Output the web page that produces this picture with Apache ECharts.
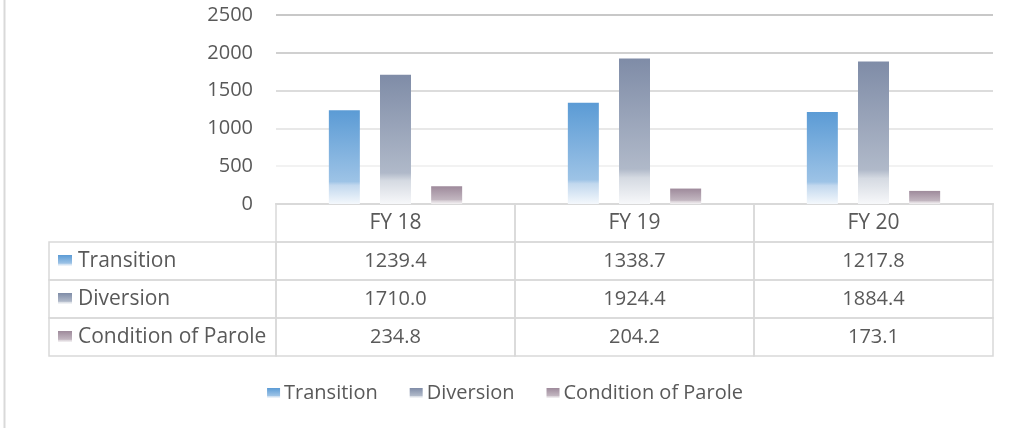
<!DOCTYPE html>
<html>
<head>
<meta charset="utf-8">
<script src="https://cdn.jsdelivr.net/npm/echarts@6/dist/echarts.min.js"></script>
<style>html,body{margin:0;padding:0;background:#fff;}#c{width:1010px;height:428px;}</style>
</head>
<body>
<div id="c"></div>
<script>
var categories = ['FY 18', 'FY 19', 'FY 20'];
var seriesNames = ['Transition', 'Diversion', 'Condition of Parole'];
var transition = [1239.4, 1338.7, 1217.8];
var diversion = [1710.0, 1924.4, 1884.4];
var parole = [234.8, 204.2, 173.1];
var yTicks = [0, 500, 1000, 1500, 2000, 2500];

var values = [transition, diversion, parole];
var FONT = '"Open Sans", "Liberation Sans", sans-serif';
var TXT = '#595959';
var LINE = '#d9d9d9';

function grad(stops) {
  return { type: 'linear', x: 0, y: 0, x2: 0, y2: 1,
    colorStops: stops.map(function (s) { return { offset: s[0], color: s[1] }; }) };
}
var fills = [
  grad([[0, '#5B9BD5'], [0.76, '#9DC3E6'], [0.8, '#C2D8EE'], [1, '#F4F8FC']]),
  grad([[0, '#7F8CA7'], [0.76, '#B0B9C9'], [0.82, '#D5DAE2'], [1, '#F7F8FA']]),
  grad([[0, '#9E8A9B'], [0.76, '#C2B6C0'], [0.82, '#D8D0D6'], [1, '#F4F2F4']])
];

var barSeries = seriesNames.map(function (n, i) {
  return {
    name: n, type: 'bar', xAxisIndex: 0, yAxisIndex: 0,
    barWidth: 31, barGap: '65%',
    itemStyle: { color: fills[i] },
    data: values[i]
  };
});

// table cells
var headerData = categories.map(function (c, i) { return [i, 0]; });
var cellData = [];
values.forEach(function (arr, r) {
  arr.forEach(function (v, c) { cellData.push([c, r + 1, v]); });
});
var labelData = seriesNames.map(function (n, i) { return [0, i]; });

function cellRect(api) {
  var p = api.coord([api.value(0), api.value(1)]);
  var s = api.size([1, 1]);
  return { x: p[0] - s[0] / 2, y: p[1] - s[1] / 2, w: s[0], h: s[1], cx: p[0], cy: p[1] };
}

var option = {
  animation: false,
  backgroundColor: '#fff',
  textStyle: { fontFamily: FONT },
  grid: [
    { left: 276, right: 17, top: 15, bottom: 224 },
    { left: 276, right: 17, top: 204, height: 152 },
    { left: 49, width: 227, top: 242, height: 114 }
  ],
  xAxis: [
    { type: 'category', gridIndex: 0, data: categories,
      axisLine: { lineStyle: { color: LINE, width: 2 } },
      axisTick: { show: false }, axisLabel: { show: false } },
    { type: 'category', gridIndex: 1, data: categories, show: false },
    { type: 'category', gridIndex: 2, data: [''], show: false }
  ],
  yAxis: [
    { type: 'value', gridIndex: 0, min: 0, max: 2500, interval: 500,
      axisLine: { show: false }, axisTick: { show: false },
      axisLabel: { color: TXT, fontSize: 20, margin: 23, fontFamily: FONT,
        formatter: function (v) { return yTicks.indexOf(v) >= 0 ? String(v) : ''; } },
      splitLine: { lineStyle: { color: ['#d9d9d9', '#f2f2f2', '#e8e8e8', '#dcdcdc', '#d0d0d0', '#c8c8c8'], width: 2 } } },
    { type: 'category', gridIndex: 1, data: [''].concat(seriesNames), inverse: true, show: false },
    { type: 'category', gridIndex: 2, data: seriesNames, inverse: true, show: false }
  ],
  legend: {
    bottom: 20, left: 'center',
    itemWidth: 13, itemHeight: 10, itemGap: 32,
    icon: 'rect',
    textStyle: { color: TXT, fontSize: 20, fontFamily: FONT, padding: [0, 0, 0, -1] },
    data: seriesNames
  },
  graphic: [
    { type: 'line', shape: { x1: 4.5, y1: 0, x2: 4.5, y2: 428 }, style: { stroke: LINE, lineWidth: 2 } }
  ],
  series: barSeries.concat([
    { type: 'custom', xAxisIndex: 1, yAxisIndex: 1, data: headerData, silent: true,
      renderItem: function (params, api) {
        var r = cellRect(api);
        return { type: 'group', children: [
          { type: 'rect', shape: { x: r.x, y: r.y, width: r.w, height: r.h },
            style: { fill: 'rgba(0,0,0,0)', stroke: LINE, lineWidth: 1.5 } },
          { type: 'text', style: { x: r.cx, y: r.cy, text: categories[api.value(0)],
            textAlign: 'center', textVerticalAlign: 'middle', fill: TXT, fontSize: 21, fontFamily: FONT } }
        ] };
      } },
    { type: 'custom', xAxisIndex: 1, yAxisIndex: 1, data: cellData, silent: true,
      renderItem: function (params, api) {
        var r = cellRect(api);
        return { type: 'group', children: [
          { type: 'rect', shape: { x: r.x, y: r.y, width: r.w, height: r.h },
            style: { fill: 'rgba(0,0,0,0)', stroke: LINE, lineWidth: 1.5 } },
          { type: 'text', style: { x: r.cx, y: r.cy, text: api.value(2).toFixed(1),
            textAlign: 'center', textVerticalAlign: 'middle', fill: TXT, fontSize: 20, fontFamily: FONT } }
        ] };
      } },
    { type: 'custom', xAxisIndex: 2, yAxisIndex: 2, data: labelData, silent: true,
      renderItem: function (params, api) {
        var r = cellRect(api);
        var i = api.value(1);
        return { type: 'group', children: [
          { type: 'rect', shape: { x: r.x, y: r.y, width: r.w, height: r.h },
            style: { fill: 'rgba(0,0,0,0)', stroke: LINE, lineWidth: 1.5 } },
          { type: 'rect', shape: { x: r.x + 9, y: r.cy - 6, width: 14, height: 11 },
            style: { fill: fills[i] } },
          { type: 'text', style: { x: r.x + 29, y: r.cy, text: seriesNames[i],
            textAlign: 'left', textVerticalAlign: 'middle', fill: TXT, fontSize: 21, fontFamily: FONT } }
        ] };
      } }
  ])
};
var chart = echarts.init(document.getElementById('c'), null, { renderer: 'canvas' });
chart.setOption(option);
</script>
</body>
</html>
